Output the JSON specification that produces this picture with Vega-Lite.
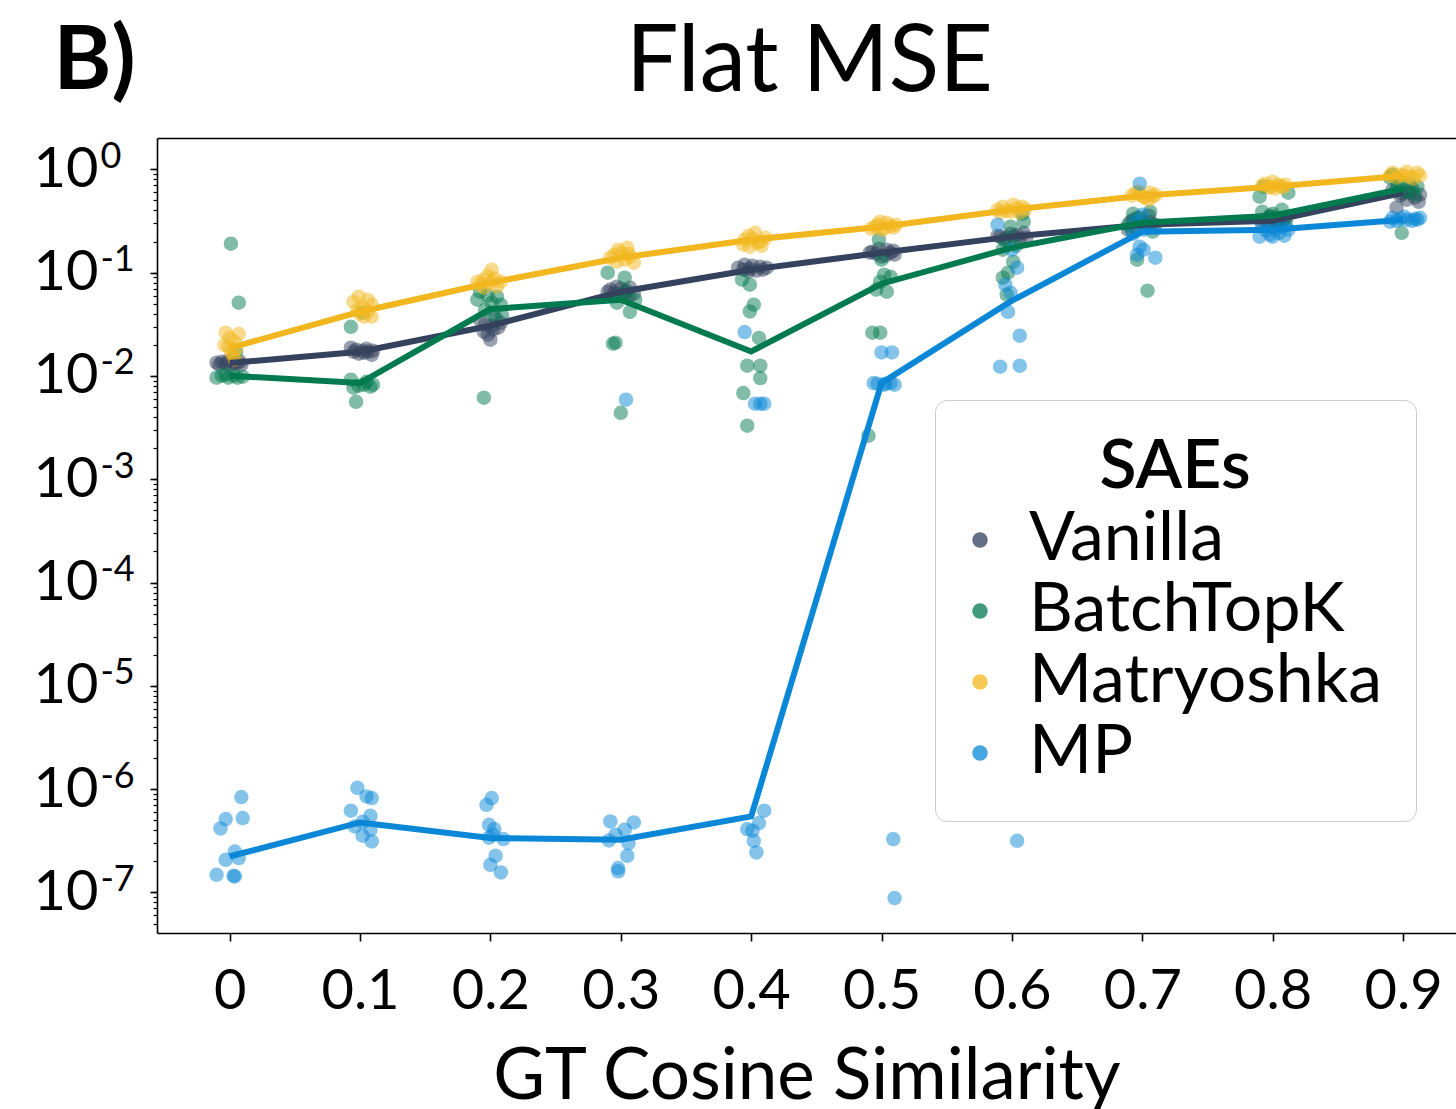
{
  "$schema": "https://vega.github.io/schema/vega-lite/v6.json",
  "autosize": {"type": "none"},
  "width": 1299,
  "height": 795,
  "padding": {"left": 157, "top": 138, "right": 0, "bottom": 176},
  "background": "white",
  "config": {"font": "Lato", "view": {"stroke": null}},
  "datasets": {
    "points": [
      {"SAE":"Vanilla","x":-0.010,"mse":0.01342},{"SAE":"Vanilla","x":-0.008,"mse":0.01283},{"SAE":"Vanilla","x":-0.006,"mse":0.01371},{"SAE":"Vanilla","x":-0.003,"mse":0.01312},{"SAE":"Vanilla","x":-0.001,"mse":0.01403},{"SAE":"Vanilla","x":0.001,"mse":0.01256},{"SAE":"Vanilla","x":0.003,"mse":0.01342},{"SAE":"Vanilla","x":0.005,"mse":0.01312},{"SAE":"Vanilla","x":0.008,"mse":0.01371},{"SAE":"Vanilla","x":0.009,"mse":0.01283},
      {"SAE":"Vanilla","x":0.093,"mse":0.01875},{"SAE":"Vanilla","x":0.095,"mse":0.01714},{"SAE":"Vanilla","x":0.097,"mse":0.01795},{"SAE":"Vanilla","x":0.099,"mse":0.01641},{"SAE":"Vanilla","x":0.102,"mse":0.01754},{"SAE":"Vanilla","x":0.103,"mse":0.01676},{"SAE":"Vanilla","x":0.105,"mse":0.01834},{"SAE":"Vanilla","x":0.106,"mse":0.01714},{"SAE":"Vanilla","x":0.109,"mse":0.01603},{"SAE":"Vanilla","x":0.110,"mse":0.01754},
      {"SAE":"Vanilla","x":0.196,"mse":0.0313},{"SAE":"Vanilla","x":0.200,"mse":0.0224},{"SAE":"Vanilla","x":0.208,"mse":0.0327},{"SAE":"Vanilla","x":0.202,"mse":0.0280},{"SAE":"Vanilla","x":0.198,"mse":0.0251},{"SAE":"Vanilla","x":0.192,"mse":0.0350},{"SAE":"Vanilla","x":0.204,"mse":0.0366},{"SAE":"Vanilla","x":0.206,"mse":0.0293},{"SAE":"Vanilla","x":0.195,"mse":0.0268},{"SAE":"Vanilla","x":0.201,"mse":0.0306},
      {"SAE":"Vanilla","x":0.292,"mse":0.0685},{"SAE":"Vanilla","x":0.297,"mse":0.0730},{"SAE":"Vanilla","x":0.307,"mse":0.0714},{"SAE":"Vanilla","x":0.302,"mse":0.0611},{"SAE":"Vanilla","x":0.295,"mse":0.0638},{"SAE":"Vanilla","x":0.304,"mse":0.0668},{"SAE":"Vanilla","x":0.300,"mse":0.0699},{"SAE":"Vanilla","x":0.310,"mse":0.0625},{"SAE":"Vanilla","x":0.290,"mse":0.0653},{"SAE":"Vanilla","x":0.306,"mse":0.0585},
      {"SAE":"Vanilla","x":0.390,"mse":0.1115},{"SAE":"Vanilla","x":0.394,"mse":0.1067},{"SAE":"Vanilla","x":0.407,"mse":0.1140},{"SAE":"Vanilla","x":0.409,"mse":0.1067},{"SAE":"Vanilla","x":0.398,"mse":0.1021},{"SAE":"Vanilla","x":0.401,"mse":0.1167},{"SAE":"Vanilla","x":0.404,"mse":0.1043},{"SAE":"Vanilla","x":0.395,"mse":0.1192},{"SAE":"Vanilla","x":0.412,"mse":0.1115},{"SAE":"Vanilla","x":0.399,"mse":0.1091},
      {"SAE":"Vanilla","x":0.493,"mse":0.1593},{"SAE":"Vanilla","x":0.504,"mse":0.1667},{"SAE":"Vanilla","x":0.510,"mse":0.1490},{"SAE":"Vanilla","x":0.500,"mse":0.1426},{"SAE":"Vanilla","x":0.507,"mse":0.1560},{"SAE":"Vanilla","x":0.496,"mse":0.1524},{"SAE":"Vanilla","x":0.498,"mse":0.1703},{"SAE":"Vanilla","x":0.503,"mse":0.1458},{"SAE":"Vanilla","x":0.491,"mse":0.1560},{"SAE":"Vanilla","x":0.509,"mse":0.1630},
      {"SAE":"Vanilla","x":0.591,"mse":0.2228},{"SAE":"Vanilla","x":0.601,"mse":0.2228},{"SAE":"Vanilla","x":0.609,"mse":0.2432},{"SAE":"Vanilla","x":0.596,"mse":0.2178},{"SAE":"Vanilla","x":0.604,"mse":0.2328},{"SAE":"Vanilla","x":0.594,"mse":0.2083},{"SAE":"Vanilla","x":0.599,"mse":0.2382},{"SAE":"Vanilla","x":0.606,"mse":0.2128},{"SAE":"Vanilla","x":0.589,"mse":0.2276},{"SAE":"Vanilla","x":0.611,"mse":0.2178},
      {"SAE":"Vanilla","x":0.691,"mse":0.3112},{"SAE":"Vanilla","x":0.693,"mse":0.3251},{"SAE":"Vanilla","x":0.698,"mse":0.3397},{"SAE":"Vanilla","x":0.706,"mse":0.3112},{"SAE":"Vanilla","x":0.702,"mse":0.2845},{"SAE":"Vanilla","x":0.695,"mse":0.2720},{"SAE":"Vanilla","x":0.705,"mse":0.3557},{"SAE":"Vanilla","x":0.710,"mse":0.2911},{"SAE":"Vanilla","x":0.689,"mse":0.2602},{"SAE":"Vanilla","x":0.700,"mse":0.2975},
      {"SAE":"Vanilla","x":0.794,"mse":0.3251},{"SAE":"Vanilla","x":0.800,"mse":0.3112},{"SAE":"Vanilla","x":0.804,"mse":0.3323},{"SAE":"Vanilla","x":0.808,"mse":0.3177},{"SAE":"Vanilla","x":0.797,"mse":0.2975},{"SAE":"Vanilla","x":0.803,"mse":0.3041},{"SAE":"Vanilla","x":0.791,"mse":0.3177},{"SAE":"Vanilla","x":0.810,"mse":0.3397},{"SAE":"Vanilla","x":0.798,"mse":0.3475},{"SAE":"Vanilla","x":0.806,"mse":0.2911},
      {"SAE":"Vanilla","x":0.905,"mse":0.5934},{"SAE":"Vanilla","x":0.913,"mse":0.5678},{"SAE":"Vanilla","x":0.895,"mse":0.4248},{"SAE":"Vanilla","x":0.903,"mse":0.5078},{"SAE":"Vanilla","x":0.892,"mse":0.6353},{"SAE":"Vanilla","x":0.909,"mse":0.5309},{"SAE":"Vanilla","x":0.899,"mse":0.5808},{"SAE":"Vanilla","x":0.907,"mse":0.6486},{"SAE":"Vanilla","x":0.898,"mse":0.5559},{"SAE":"Vanilla","x":0.912,"mse":0.4853},
      {"SAE":"BatchTopK","x":0.001,"mse":0.1905},{"SAE":"BatchTopK","x":0.007,"mse":0.0511},{"SAE":"BatchTopK","x":0.005,"mse":0.01714},{"SAE":"BatchTopK","x":-0.010,"mse":0.00961},{"SAE":"BatchTopK","x":-0.006,"mse":0.01005},{"SAE":"BatchTopK","x":-0.001,"mse":0.00961},{"SAE":"BatchTopK","x":0.003,"mse":0.01005},{"SAE":"BatchTopK","x":0.006,"mse":0.00961},{"SAE":"BatchTopK","x":0.010,"mse":0.00982},{"SAE":"BatchTopK","x":-0.003,"mse":0.01028},
      {"SAE":"BatchTopK","x":0.093,"mse":0.0299},{"SAE":"BatchTopK","x":0.097,"mse":0.00562},{"SAE":"BatchTopK","x":0.102,"mse":0.0409},{"SAE":"BatchTopK","x":0.093,"mse":0.00919},{"SAE":"BatchTopK","x":0.095,"mse":0.00769},{"SAE":"BatchTopK","x":0.103,"mse":0.00822},{"SAE":"BatchTopK","x":0.108,"mse":0.00786},{"SAE":"BatchTopK","x":0.110,"mse":0.00822},{"SAE":"BatchTopK","x":0.099,"mse":0.00804},{"SAE":"BatchTopK","x":0.105,"mse":0.00879},
      {"SAE":"BatchTopK","x":0.190,"mse":0.0547},{"SAE":"BatchTopK","x":0.192,"mse":0.0653},{"SAE":"BatchTopK","x":0.205,"mse":0.0585},{"SAE":"BatchTopK","x":0.208,"mse":0.0489},{"SAE":"BatchTopK","x":0.209,"mse":0.0383},{"SAE":"BatchTopK","x":0.195,"mse":0.00615},{"SAE":"BatchTopK","x":0.198,"mse":0.0597},{"SAE":"BatchTopK","x":0.202,"mse":0.0391},{"SAE":"BatchTopK","x":0.196,"mse":0.0437},{"SAE":"BatchTopK","x":0.201,"mse":0.0511},
      {"SAE":"BatchTopK","x":0.290,"mse":0.0998},{"SAE":"BatchTopK","x":0.303,"mse":0.0893},{"SAE":"BatchTopK","x":0.297,"mse":0.0511},{"SAE":"BatchTopK","x":0.307,"mse":0.0418},{"SAE":"BatchTopK","x":0.296,"mse":0.0210},{"SAE":"BatchTopK","x":0.294,"mse":0.0205},{"SAE":"BatchTopK","x":0.300,"mse":0.00440},{"SAE":"BatchTopK","x":0.298,"mse":0.0597},{"SAE":"BatchTopK","x":0.304,"mse":0.0653},{"SAE":"BatchTopK","x":0.311,"mse":0.0547},
      {"SAE":"BatchTopK","x":0.393,"mse":0.0854},{"SAE":"BatchTopK","x":0.399,"mse":0.0764},{"SAE":"BatchTopK","x":0.402,"mse":0.0489},{"SAE":"BatchTopK","x":0.399,"mse":0.0421},{"SAE":"BatchTopK","x":0.406,"mse":0.0233},{"SAE":"BatchTopK","x":0.397,"mse":0.01256},{"SAE":"BatchTopK","x":0.407,"mse":0.01256},{"SAE":"BatchTopK","x":0.407,"mse":0.00954},{"SAE":"BatchTopK","x":0.394,"mse":0.00683},{"SAE":"BatchTopK","x":0.397,"mse":0.00330},
      {"SAE":"BatchTopK","x":0.498,"mse":0.2083},{"SAE":"BatchTopK","x":0.500,"mse":0.1334},{"SAE":"BatchTopK","x":0.499,"mse":0.0817},{"SAE":"BatchTopK","x":0.507,"mse":0.0912},{"SAE":"BatchTopK","x":0.504,"mse":0.0653},{"SAE":"BatchTopK","x":0.493,"mse":0.0262},{"SAE":"BatchTopK","x":0.499,"mse":0.0262},{"SAE":"BatchTopK","x":0.490,"mse":0.00264},{"SAE":"BatchTopK","x":0.502,"mse":0.0954},{"SAE":"BatchTopK","x":0.496,"mse":0.0685},
      {"SAE":"BatchTopK","x":0.608,"mse":0.3715},{"SAE":"BatchTopK","x":0.609,"mse":0.3112},{"SAE":"BatchTopK","x":0.599,"mse":0.2782},{"SAE":"BatchTopK","x":0.595,"mse":0.2083},{"SAE":"BatchTopK","x":0.603,"mse":0.1820},{"SAE":"BatchTopK","x":0.593,"mse":0.1667},{"SAE":"BatchTopK","x":0.601,"mse":0.1276},{"SAE":"BatchTopK","x":0.597,"mse":0.0998},{"SAE":"BatchTopK","x":0.593,"mse":0.0893},{"SAE":"BatchTopK","x":0.596,"mse":0.0611},
      {"SAE":"BatchTopK","x":0.692,"mse":0.2602},{"SAE":"BatchTopK","x":0.696,"mse":0.1334},{"SAE":"BatchTopK","x":0.704,"mse":0.0668},{"SAE":"BatchTopK","x":0.706,"mse":0.3886},{"SAE":"BatchTopK","x":0.693,"mse":0.3715},{"SAE":"BatchTopK","x":0.696,"mse":0.3397},{"SAE":"BatchTopK","x":0.700,"mse":0.3112},{"SAE":"BatchTopK","x":0.703,"mse":0.2845},{"SAE":"BatchTopK","x":0.689,"mse":0.2911},{"SAE":"BatchTopK","x":0.708,"mse":0.2488},
      {"SAE":"BatchTopK","x":0.790,"mse":0.5430},{"SAE":"BatchTopK","x":0.812,"mse":0.5934},{"SAE":"BatchTopK","x":0.793,"mse":0.6788},{"SAE":"BatchTopK","x":0.792,"mse":0.3886},{"SAE":"BatchTopK","x":0.807,"mse":0.4064},{"SAE":"BatchTopK","x":0.798,"mse":0.3557},{"SAE":"BatchTopK","x":0.802,"mse":0.3397},{"SAE":"BatchTopK","x":0.795,"mse":0.3251},{"SAE":"BatchTopK","x":0.810,"mse":0.3112},{"SAE":"BatchTopK","x":0.800,"mse":0.3715},
      {"SAE":"BatchTopK","x":0.892,"mse":0.8872},{"SAE":"BatchTopK","x":0.898,"mse":0.7586},{"SAE":"BatchTopK","x":0.911,"mse":0.6788},{"SAE":"BatchTopK","x":0.899,"mse":0.2432},{"SAE":"BatchTopK","x":0.890,"mse":0.8299},{"SAE":"BatchTopK","x":0.905,"mse":0.7096},{"SAE":"BatchTopK","x":0.895,"mse":0.6353},{"SAE":"BatchTopK","x":0.902,"mse":0.6067},{"SAE":"BatchTopK","x":0.909,"mse":0.5678},{"SAE":"BatchTopK","x":0.896,"mse":0.6934},
      {"SAE":"Matryoshka","x":-0.003,"mse":0.0262},{"SAE":"Matryoshka","x":0.007,"mse":0.0256},{"SAE":"Matryoshka","x":0.000,"mse":0.0234},{"SAE":"Matryoshka","x":0.004,"mse":0.0214},{"SAE":"Matryoshka","x":-0.004,"mse":0.0200},{"SAE":"Matryoshka","x":0.005,"mse":0.0183},{"SAE":"Matryoshka","x":0.001,"mse":0.01714},{"SAE":"Matryoshka","x":0.003,"mse":0.01567},{"SAE":"Matryoshka","x":0.004,"mse":0.01435},{"SAE":"Matryoshka","x":-0.001,"mse":0.0192},
      {"SAE":"Matryoshka","x":0.095,"mse":0.0523},{"SAE":"Matryoshka","x":0.099,"mse":0.0585},{"SAE":"Matryoshka","x":0.106,"mse":0.0547},{"SAE":"Matryoshka","x":0.109,"mse":0.0489},{"SAE":"Matryoshka","x":0.103,"mse":0.0374},{"SAE":"Matryoshka","x":0.109,"mse":0.0374},{"SAE":"Matryoshka","x":0.098,"mse":0.0437},{"SAE":"Matryoshka","x":0.102,"mse":0.0457},{"SAE":"Matryoshka","x":0.106,"mse":0.0418},{"SAE":"Matryoshka","x":0.100,"mse":0.0400},
      {"SAE":"Matryoshka","x":0.190,"mse":0.0817},{"SAE":"Matryoshka","x":0.195,"mse":0.0854},{"SAE":"Matryoshka","x":0.201,"mse":0.1067},{"SAE":"Matryoshka","x":0.200,"mse":0.0798},{"SAE":"Matryoshka","x":0.208,"mse":0.0817},{"SAE":"Matryoshka","x":0.195,"mse":0.0714},{"SAE":"Matryoshka","x":0.205,"mse":0.0730},{"SAE":"Matryoshka","x":0.198,"mse":0.0933},{"SAE":"Matryoshka","x":0.203,"mse":0.0873},{"SAE":"Matryoshka","x":0.192,"mse":0.0764},
      {"SAE":"Matryoshka","x":0.292,"mse":0.1394},{"SAE":"Matryoshka","x":0.305,"mse":0.1742},{"SAE":"Matryoshka","x":0.307,"mse":0.1426},{"SAE":"Matryoshka","x":0.300,"mse":0.1560},{"SAE":"Matryoshka","x":0.297,"mse":0.1276},{"SAE":"Matryoshka","x":0.310,"mse":0.1247},{"SAE":"Matryoshka","x":0.295,"mse":0.1490},{"SAE":"Matryoshka","x":0.303,"mse":0.1334},{"SAE":"Matryoshka","x":0.298,"mse":0.1667},{"SAE":"Matryoshka","x":0.306,"mse":0.1524},
      {"SAE":"Matryoshka","x":0.395,"mse":0.2083},{"SAE":"Matryoshka","x":0.403,"mse":0.2432},{"SAE":"Matryoshka","x":0.411,"mse":0.2178},{"SAE":"Matryoshka","x":0.399,"mse":0.1782},{"SAE":"Matryoshka","x":0.405,"mse":0.1945},{"SAE":"Matryoshka","x":0.394,"mse":0.1862},{"SAE":"Matryoshka","x":0.407,"mse":0.1991},{"SAE":"Matryoshka","x":0.398,"mse":0.2276},{"SAE":"Matryoshka","x":0.408,"mse":0.1820},{"SAE":"Matryoshka","x":0.401,"mse":0.2128},
      {"SAE":"Matryoshka","x":0.495,"mse":0.2782},{"SAE":"Matryoshka","x":0.504,"mse":0.3041},{"SAE":"Matryoshka","x":0.509,"mse":0.2720},{"SAE":"Matryoshka","x":0.500,"mse":0.2602},{"SAE":"Matryoshka","x":0.497,"mse":0.2911},{"SAE":"Matryoshka","x":0.507,"mse":0.2845},{"SAE":"Matryoshka","x":0.502,"mse":0.2661},{"SAE":"Matryoshka","x":0.492,"mse":0.2661},{"SAE":"Matryoshka","x":0.511,"mse":0.2911},{"SAE":"Matryoshka","x":0.499,"mse":0.3112},
      {"SAE":"Matryoshka","x":0.589,"mse":0.4064},{"SAE":"Matryoshka","x":0.593,"mse":0.4345},{"SAE":"Matryoshka","x":0.604,"mse":0.4248},{"SAE":"Matryoshka","x":0.610,"mse":0.4064},{"SAE":"Matryoshka","x":0.608,"mse":0.4345},{"SAE":"Matryoshka","x":0.599,"mse":0.3886},{"SAE":"Matryoshka","x":0.591,"mse":0.3801},{"SAE":"Matryoshka","x":0.601,"mse":0.4539},{"SAE":"Matryoshka","x":0.596,"mse":0.3972},{"SAE":"Matryoshka","x":0.606,"mse":0.3801},
      {"SAE":"Matryoshka","x":0.695,"mse":0.5934},{"SAE":"Matryoshka","x":0.706,"mse":0.5934},{"SAE":"Matryoshka","x":0.702,"mse":0.5309},{"SAE":"Matryoshka","x":0.708,"mse":0.5430},{"SAE":"Matryoshka","x":0.692,"mse":0.5559},{"SAE":"Matryoshka","x":0.698,"mse":0.5678},{"SAE":"Matryoshka","x":0.705,"mse":0.5078},{"SAE":"Matryoshka","x":0.697,"mse":0.6067},{"SAE":"Matryoshka","x":0.701,"mse":0.5430},{"SAE":"Matryoshka","x":0.710,"mse":0.5678},
      {"SAE":"Matryoshka","x":0.797,"mse":0.6788},{"SAE":"Matryoshka","x":0.804,"mse":0.7096},{"SAE":"Matryoshka","x":0.800,"mse":0.7586},{"SAE":"Matryoshka","x":0.808,"mse":0.6637},{"SAE":"Matryoshka","x":0.792,"mse":0.6934},{"SAE":"Matryoshka","x":0.802,"mse":0.6486},{"SAE":"Matryoshka","x":0.794,"mse":0.7261},{"SAE":"Matryoshka","x":0.806,"mse":0.6934},{"SAE":"Matryoshka","x":0.798,"mse":0.6637},{"SAE":"Matryoshka","x":0.810,"mse":0.7096},
      {"SAE":"Matryoshka","x":0.892,"mse":0.9270},{"SAE":"Matryoshka","x":0.903,"mse":0.9479},{"SAE":"Matryoshka","x":0.911,"mse":0.9270},{"SAE":"Matryoshka","x":0.913,"mse":0.8670},{"SAE":"Matryoshka","x":0.898,"mse":0.8872},{"SAE":"Matryoshka","x":0.905,"mse":0.8472},{"SAE":"Matryoshka","x":0.895,"mse":0.8299},{"SAE":"Matryoshka","x":0.908,"mse":0.8110},{"SAE":"Matryoshka","x":0.901,"mse":0.8670},{"SAE":"Matryoshka","x":0.890,"mse":0.8670},
      {"SAE":"MP","x":0.009,"mse":8.39e-7},{"SAE":"MP","x":0.010,"mse":5.25e-7},{"SAE":"MP","x":-0.003,"mse":5.13e-7},{"SAE":"MP","x":-0.007,"mse":4.17e-7},{"SAE":"MP","x":0.004,"mse":2.49e-7},{"SAE":"MP","x":-0.003,"mse":2.07e-7},{"SAE":"MP","x":0.007,"mse":2.15e-7},{"SAE":"MP","x":-0.010,"mse":1.48e-7},{"SAE":"MP","x":0.003,"mse":1.45e-7},{"SAE":"MP","x":0.004,"mse":1.43e-7},
      {"SAE":"MP","x":0.098,"mse":1.03e-6},{"SAE":"MP","x":0.105,"mse":8.49e-7},{"SAE":"MP","x":0.109,"mse":8.20e-7},{"SAE":"MP","x":0.093,"mse":6.18e-7},{"SAE":"MP","x":0.108,"mse":5.52e-7},{"SAE":"MP","x":0.096,"mse":4.36e-7},{"SAE":"MP","x":0.108,"mse":4.05e-7},{"SAE":"MP","x":0.102,"mse":3.54e-7},{"SAE":"MP","x":0.109,"mse":3.12e-7},{"SAE":"MP","x":0.102,"mse":4.83e-7},
      {"SAE":"MP","x":0.197,"mse":7.06e-7},{"SAE":"MP","x":0.201,"mse":8.20e-7},{"SAE":"MP","x":0.199,"mse":4.52e-7},{"SAE":"MP","x":0.203,"mse":4.11e-7},{"SAE":"MP","x":0.202,"mse":3.62e-7},{"SAE":"MP","x":0.210,"mse":3.29e-7},{"SAE":"MP","x":0.204,"mse":2.26e-7},{"SAE":"MP","x":0.200,"mse":1.85e-7},{"SAE":"MP","x":0.208,"mse":1.56e-7},{"SAE":"MP","x":0.199,"mse":3.39e-7},
      {"SAE":"MP","x":0.304,"mse":0.00589},{"SAE":"MP","x":0.292,"mse":4.87e-7},{"SAE":"MP","x":0.310,"mse":4.76e-7},{"SAE":"MP","x":0.303,"mse":4.05e-7},{"SAE":"MP","x":0.291,"mse":3.19e-7},{"SAE":"MP","x":0.306,"mse":3.01e-7},{"SAE":"MP","x":0.305,"mse":2.26e-7},{"SAE":"MP","x":0.298,"mse":1.72e-7},{"SAE":"MP","x":0.298,"mse":1.60e-7},{"SAE":"MP","x":0.296,"mse":3.62e-7},
      {"SAE":"MP","x":0.395,"mse":0.0266},{"SAE":"MP","x":0.403,"mse":0.00538},{"SAE":"MP","x":0.407,"mse":0.00538},{"SAE":"MP","x":0.410,"mse":0.00538},{"SAE":"MP","x":0.410,"mse":6.18e-7},{"SAE":"MP","x":0.406,"mse":4.70e-7},{"SAE":"MP","x":0.397,"mse":4.11e-7},{"SAE":"MP","x":0.401,"mse":3.96e-7},{"SAE":"MP","x":0.402,"mse":3.16e-7},{"SAE":"MP","x":0.404,"mse":2.44e-7},
      {"SAE":"MP","x":0.500,"mse":0.0169},{"SAE":"MP","x":0.508,"mse":0.0169},{"SAE":"MP","x":0.494,"mse":0.00853},{"SAE":"MP","x":0.502,"mse":0.00822},{"SAE":"MP","x":0.510,"mse":0.00822},{"SAE":"MP","x":0.507,"mse":0.00853},{"SAE":"MP","x":0.509,"mse":3.29e-7},{"SAE":"MP","x":0.510,"mse":8.83e-8},{"SAE":"MP","x":0.497,"mse":0.00841},{"SAE":"MP","x":0.503,"mse":0.00841},
      {"SAE":"MP","x":0.589,"mse":0.2911},{"SAE":"MP","x":0.604,"mse":0.1115},{"SAE":"MP","x":0.599,"mse":0.0638},{"SAE":"MP","x":0.597,"mse":0.0418},{"SAE":"MP","x":0.606,"mse":0.0245},{"SAE":"MP","x":0.591,"mse":0.01228},{"SAE":"MP","x":0.606,"mse":0.01256},{"SAE":"MP","x":0.604,"mse":3.16e-7},{"SAE":"MP","x":0.600,"mse":0.1667},{"SAE":"MP","x":0.595,"mse":0.0764},
      {"SAE":"MP","x":0.698,"mse":0.7261},{"SAE":"MP","x":0.700,"mse":0.3631},{"SAE":"MP","x":0.695,"mse":0.3112},{"SAE":"MP","x":0.706,"mse":0.2845},{"SAE":"MP","x":0.701,"mse":0.2602},{"SAE":"MP","x":0.693,"mse":0.2382},{"SAE":"MP","x":0.698,"mse":0.1782},{"SAE":"MP","x":0.701,"mse":0.1667},{"SAE":"MP","x":0.696,"mse":0.1490},{"SAE":"MP","x":0.710,"mse":0.1394},
      {"SAE":"MP","x":0.792,"mse":0.2845},{"SAE":"MP","x":0.807,"mse":0.2782},{"SAE":"MP","x":0.802,"mse":0.2661},{"SAE":"MP","x":0.812,"mse":0.2602},{"SAE":"MP","x":0.795,"mse":0.2545},{"SAE":"MP","x":0.805,"mse":0.2432},{"SAE":"MP","x":0.798,"mse":0.2328},{"SAE":"MP","x":0.809,"mse":0.2276},{"SAE":"MP","x":0.790,"mse":0.2228},{"SAE":"MP","x":0.800,"mse":0.2228},
      {"SAE":"MP","x":0.892,"mse":0.3397},{"SAE":"MP","x":0.903,"mse":0.3251},{"SAE":"MP","x":0.911,"mse":0.3251},{"SAE":"MP","x":0.898,"mse":0.3323},{"SAE":"MP","x":0.907,"mse":0.3177},{"SAE":"MP","x":0.890,"mse":0.3112},{"SAE":"MP","x":0.913,"mse":0.3397},{"SAE":"MP","x":0.901,"mse":0.3475},{"SAE":"MP","x":0.895,"mse":0.3177},{"SAE":"MP","x":0.909,"mse":0.3323}
    ],
    "lines": [
      {"SAE":"Vanilla","x":0.0,"mse":0.01334},{"SAE":"Vanilla","x":0.1,"mse":0.01714},{"SAE":"Vanilla","x":0.2,"mse":0.0306},{"SAE":"Vanilla","x":0.3,"mse":0.0653},{"SAE":"Vanilla","x":0.4,"mse":0.1067},{"SAE":"Vanilla","x":0.5,"mse":0.156},{"SAE":"Vanilla","x":0.6,"mse":0.223},{"SAE":"Vanilla","x":0.7,"mse":0.291},{"SAE":"Vanilla","x":0.8,"mse":0.318},{"SAE":"Vanilla","x":0.9,"mse":0.593},
      {"SAE":"BatchTopK","x":0.0,"mse":0.01005},{"SAE":"BatchTopK","x":0.1,"mse":0.00853},{"SAE":"BatchTopK","x":0.2,"mse":0.0444},{"SAE":"BatchTopK","x":0.3,"mse":0.0547},{"SAE":"BatchTopK","x":0.4,"mse":0.01726},{"SAE":"BatchTopK","x":0.5,"mse":0.0781},{"SAE":"BatchTopK","x":0.6,"mse":0.174},{"SAE":"BatchTopK","x":0.7,"mse":0.304},{"SAE":"BatchTopK","x":0.8,"mse":0.356},{"SAE":"BatchTopK","x":0.9,"mse":0.649},
      {"SAE":"Matryoshka","x":0.0,"mse":0.01862},{"SAE":"Matryoshka","x":0.1,"mse":0.0418},{"SAE":"Matryoshka","x":0.2,"mse":0.0798},{"SAE":"Matryoshka","x":0.3,"mse":0.1394},{"SAE":"Matryoshka","x":0.4,"mse":0.2083},{"SAE":"Matryoshka","x":0.5,"mse":0.278},{"SAE":"Matryoshka","x":0.6,"mse":0.406},{"SAE":"Matryoshka","x":0.7,"mse":0.555},{"SAE":"Matryoshka","x":0.8,"mse":0.679},{"SAE":"Matryoshka","x":0.9,"mse":0.867},
      {"SAE":"MP","x":0.0,"mse":2.23e-7},{"SAE":"MP","x":0.1,"mse":4.76e-7},{"SAE":"MP","x":0.2,"mse":3.36e-7},{"SAE":"MP","x":0.3,"mse":3.24e-7},{"SAE":"MP","x":0.4,"mse":5.44e-7},{"SAE":"MP","x":0.5,"mse":0.00853},{"SAE":"MP","x":0.6,"mse":0.0535},{"SAE":"MP","x":0.7,"mse":0.249},{"SAE":"MP","x":0.8,"mse":0.260},{"SAE":"MP","x":0.9,"mse":0.325}
    ]
  },
  "layer": [
    {
      "data": {"name": "points"},
      "mark": {"type": "circle", "size": 210, "opacity": 0.5},
      "encoding": {
        "x": {
          "field": "x", "type": "quantitative",
          "scale": {"domain": [-0.0557, 0.9406], "nice": false, "zero": false},
          "axis": {
            "orient": "bottom", "values": [0, 0.1, 0.2, 0.3, 0.4, 0.5, 0.6, 0.7, 0.8, 0.9], "format": ".1~f",
            "domain": true, "domainColor": "black", "domainWidth": 1.6,
            "ticks": true, "tickSize": 8, "tickWidth": 1.6, "tickColor": "black",
            "labelFontSize": 56, "labelColor": "black", "labelBaseline": "alphabetic", "labelPadding": 67,
            "labelFlush": false, "labelOverlap": false, "grid": false,
            "title": "GT Cosine Similarity", "titleFontSize": 71, "titleFontWeight": "normal", "titleColor": "black",
            "titleBaseline": "alphabetic", "titleY": 165
          }
        },
        "y": {
          "field": "mse", "type": "quantitative",
          "scale": {"type": "log", "domain": [4.05e-8, 2.01], "nice": false},
          "axis": {
            "orient": "left", "values": [1e-7, 1e-6, 1e-5, 1e-4, 1e-3, 1e-2, 1e-1, 1],
            "domain": true, "domainColor": "black", "domainWidth": 1.6,
            "ticks": true, "tickSize": 7, "tickWidth": 1.6, "tickColor": "black",
            "labelExpr": "'10'", "labelFontSize": 56, "labelColor": "black", "labelPadding": 52,
            "labelOverlap": false, "labelFlush": false, "grid": false,
            "title": "B)", "titleAngle": 0, "titleX": -104, "titleY": -50, "titleAlign": "left",
            "titleBaseline": "alphabetic", "titleFontSize": 88, "titleFontWeight": "bold", "titleColor": "black"
          }
        },
        "color": {
          "field": "SAE", "type": "nominal",
          "scale": {"domain": ["Vanilla", "BatchTopK", "Matryoshka", "MP"], "range": ["#34425e", "#017a4f", "#f2b71e", "#0a87d6"]},
          "legend": {
            "orient": "none", "legendX": 778, "legendY": 262,
            "title": "SAEs", "titleFontSize": 68, "titleFontWeight": 600, "titleColor": "black", "titleAnchor": "middle", "titlePadding": 4,
            "labelFontSize": 68, "labelColor": "black", "labelOffset": 15, "labelLimit": 800, "titleLimit": 800,
            "symbolType": "circle", "symbolSize": 240, "symbolOpacity": 0.75, "symbolStrokeWidth": 0, "symbolOffset": -23,
            "padding": 34, "rowPadding": 3, "strokeColor": "#cccccc", "cornerRadius": 12, "fillColor": "white"
          }
        }
      }
    },
    {
      "data": {"name": "lines"},
      "mark": {"type": "line", "strokeWidth": 6},
      "encoding": {
        "x": {
          "field": "x", "type": "quantitative",
          "axis": {
            "orient": "top", "domain": true, "domainColor": "black", "domainWidth": 1.6, "ticks": false, "labels": false, "grid": false,
            "title": "Flat MSE", "titleFontSize": 93, "titleFontWeight": "normal", "titleColor": "black",
            "titleBaseline": "alphabetic", "titleY": -48, "titleX": 652, "titleAlign": "center"
          }
        },
        "y": {
          "field": "mse", "type": "quantitative",
          "axis": {
            "orient": "left",
            "values": [5e-8, 6e-8, 7e-8, 8e-8, 9e-8, 1e-7, 2e-7, 3e-7, 4e-7, 5e-7, 6e-7, 7e-7, 8e-7, 9e-7, 1e-6, 2e-6, 3e-6, 4e-6, 5e-6, 6e-6, 7e-6, 8e-6, 9e-6, 1e-5, 2e-5, 3e-5, 4e-5, 5e-5, 6e-5, 7e-5, 8e-5, 9e-5, 1e-4, 2e-4, 3e-4, 4e-4, 5e-4, 6e-4, 7e-4, 8e-4, 9e-4, 1e-3, 2e-3, 3e-3, 4e-3, 5e-3, 6e-3, 7e-3, 8e-3, 9e-3, 1e-2, 2e-2, 3e-2, 4e-2, 5e-2, 6e-2, 7e-2, 8e-2, 9e-2, 0.1, 0.2, 0.3, 0.4, 0.5, 0.6, 0.7, 0.8, 0.9, 1],
            "domain": false, "ticks": true, "tickSize": 4, "tickWidth": 1.2, "tickColor": "black",
            "labelExpr": "abs(log(datum.value)/LN10 - round(log(datum.value)/LN10)) > 0.001 ? '' : (round(log(datum.value)/LN10) == 0 ? '0' : '-' + abs(round(log(datum.value)/LN10)))",
            "labelAlign": "left", "labelPadding": 53, "labelFontSize": 36, "labelOffset": -13, "labelColor": "black",
            "labelOverlap": false, "labelFlush": false, "labelBound": false, "grid": false, "title": null
          }
        },
        "stroke": {
          "field": "SAE", "type": "nominal",
          "scale": {"domain": ["Vanilla", "BatchTopK", "Matryoshka", "MP"], "range": ["#34425e", "#017a4f", "#f2b71e", "#0a87d6"]},
          "legend": null
        }
      }
    }
  ],
  "resolve": {"axis": {"x": "independent", "y": "independent"}}
}
